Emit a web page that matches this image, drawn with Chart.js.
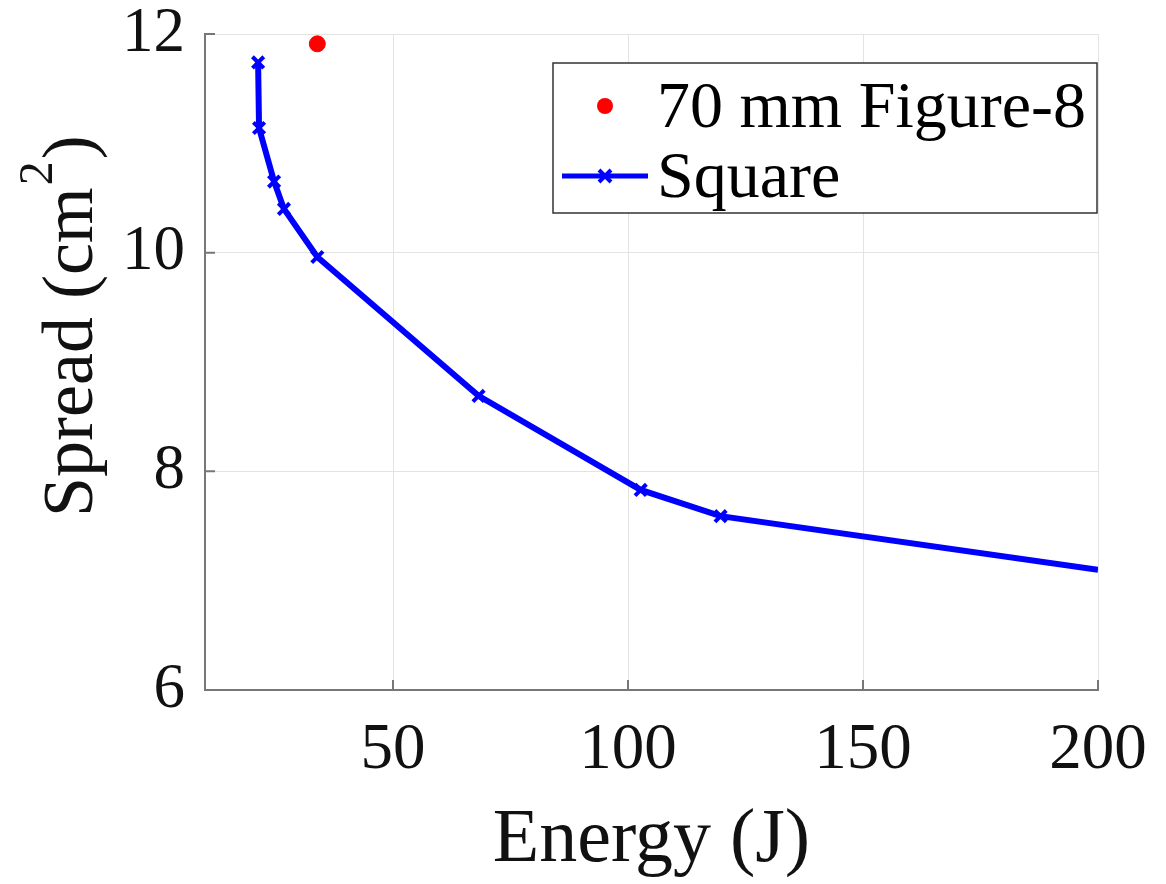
<!DOCTYPE html>
<html>
<head>
<meta charset="utf-8">
<script src="https://cdn.jsdelivr.net/npm/chart.js@4/dist/chart.umd.min.js"></script>
<style>
  html, body { margin: 0; padding: 0; background: #fff; }
  #wrap { width: 1166px; height: 884px; }
</style>
</head>
<body>
<div id="wrap"><canvas id="myChart" width="1166" height="884"></canvas></div>
<script>
// data
let squareEnergy = [21.3, 21.5, 24.7, 26.8, 33.9, 68.2, 102.7, 119.7, 200];
let squareSpread = [11.74, 11.14, 10.65, 10.40, 9.96, 8.69, 7.83, 7.59, 7.10];
let fig8Energy = [33.9];
let fig8Spread = [11.91];
let seriesNames = ['70 mm Figure-8', 'Square'];
let xTicks = [50, 100, 150, 200];
let yTicks = [6, 8, 10, 12];

let serif = "'Liberation Serif', 'DejaVu Serif', serif";

function toPoints(xs, ys) {
  return xs.map(function (x, i) { return { x: x, y: ys[i] }; });
}

// last point has no marker (line runs to the edge)
let squareRadius = squareEnergy.map(function (x, i) { return i == squareEnergy.length - 1 ? 0 : 8; });

// legend box drawn inside the plot, like the original
let insideLegend = {
  id: 'insideLegend',
  afterDraw: function (chart) {
    let ctx = chart.ctx;
    ctx.save();
    ctx.fillStyle = '#fff';
    ctx.strokeStyle = '#333';
    ctx.lineWidth = 1.5;
    ctx.fillRect(553, 63, 544, 150);
    ctx.strokeRect(553, 63, 544, 150);

    ctx.font = '66px ' + serif;
    ctx.textBaseline = 'middle';

    // row 1: red dot
    ctx.beginPath();
    ctx.arc(605, 106, 8, 0, Math.PI * 2);
    ctx.fillStyle = '#ff0000';
    ctx.fill();
    ctx.fillStyle = '#000';
    ctx.fillText(seriesNames[0], 657, 110);

    // row 2: blue line with x marker
    ctx.strokeStyle = '#0000ff';
    ctx.lineWidth = 5;
    ctx.beginPath();
    ctx.moveTo(562, 176);
    ctx.lineTo(648, 176);
    ctx.stroke();
    ctx.lineWidth = 4;
    ctx.beginPath();
    ctx.moveTo(599, 170); ctx.lineTo(611, 182);
    ctx.moveTo(611, 170); ctx.lineTo(599, 182);
    ctx.stroke();
    ctx.fillText(seriesNames[1], 657, 180);
    ctx.restore();
  }
};

// y title with a real superscript 2
let yTitle = {
  id: 'yTitle',
  afterDraw: function (chart) {
    let ctx = chart.ctx;
    ctx.save();
    ctx.translate(92, 517);
    ctx.rotate(-Math.PI / 2);
    ctx.fillStyle = '#111';
    ctx.textBaseline = 'alphabetic';
    ctx.font = '72px ' + serif;
    let a = 'Spread (cm';
    ctx.fillText(a, 0, 0);
    let w = ctx.measureText(a).width;
    ctx.font = '48px ' + serif;
    ctx.fillText('2', w + 2, -40);
    let w2 = ctx.measureText('2').width;
    ctx.font = '72px ' + serif;
    ctx.fillText(')', w + w2 + 4, 0);
    ctx.restore();
  }
};

// short inward tick marks, matlab style
let innerTicks = {
  id: 'innerTicks',
  afterDatasetsDraw: function (chart) {
    let ctx = chart.ctx;
    let xs = chart.scales.x, ys = chart.scales.y;
    let area = chart.chartArea;
    ctx.save();
    ctx.strokeStyle = '#777';
    ctx.lineWidth = 2;
    ctx.beginPath();
    yTicks.forEach(function (v) {
      let py = ys.getPixelForValue(v);
      ctx.moveTo(area.left, py);
      ctx.lineTo(area.left + 10, py);
    });
    xTicks.forEach(function (v) {
      let px = xs.getPixelForValue(v);
      ctx.moveTo(px, area.bottom);
      ctx.lineTo(px, area.bottom - 10);
    });
    ctx.stroke();
    ctx.restore();
  }
};

let myChart = document.getElementById('myChart').getContext('2d');
let chart = new Chart(myChart, {
  type: 'scatter',
  data: {
    datasets: [{
      label: seriesNames[0],
      data: toPoints(fig8Energy, fig8Spread),
      backgroundColor: '#ff0000',
      borderColor: '#ff0000',
      pointRadius: 8,
      showLine: false
    }, {
      label: seriesNames[1],
      data: toPoints(squareEnergy, squareSpread),
      borderColor: '#0000ff',
      backgroundColor: '#0000ff',
      borderWidth: 6,
      showLine: true,
      pointStyle: 'crossRot',
      pointRadius: squareRadius,
      pointBorderWidth: 4,
      pointBorderColor: '#0000ff'
    }]
  },
  options: {
    responsive: false,
    animation: false,
    layout: { padding: { left: 5, right: 68, top: 34, bottom: 0 } },
    plugins: {
      legend: { display: false },
      tooltip: { enabled: false }
    },
    scales: {
      x: {
        type: 'linear',
        min: 10,
        max: 200,
        afterBuildTicks: function (axis) {
          axis.ticks = xTicks.map(function (v) { return { value: v }; });
        },
        afterFit: function (axis) {
          axis.height = 194;
          axis.paddingLeft = 0;
          axis.paddingRight = 0;
        },
        grid: { color: '#e3e3e3', lineWidth: 1, drawTicks: false },
        border: { display: true, color: '#777', width: 2 },
        ticks: {
          color: '#111',
          padding: 22,
          maxRotation: 0,
          font: { family: serif, size: 65 }
        },
        title: {
          display: true,
          text: 'Energy (J)',
          color: '#111',
          padding: { top: 0, bottom: -3 },
          font: { family: serif, size: 76 }
        }
      },
      y: {
        type: 'linear',
        min: 6,
        max: 12,
        afterBuildTicks: function (axis) {
          axis.ticks = yTicks.map(function (v) { return { value: v }; });
        },
        afterFit: function (axis) {
          axis.width = 200;
          axis.paddingTop = 0;
          axis.paddingBottom = 0;
        },
        grid: { color: '#e3e3e3', lineWidth: 1, drawTicks: false },
        border: { display: true, color: '#777', width: 2 },
        ticks: {
          color: '#111',
          padding: 20,
          font: { family: serif, size: 63 }
        },
        title: { display: false }
      }
    }
  },
  plugins: [innerTicks, insideLegend, yTitle]
});
</script>
</body>
</html>
